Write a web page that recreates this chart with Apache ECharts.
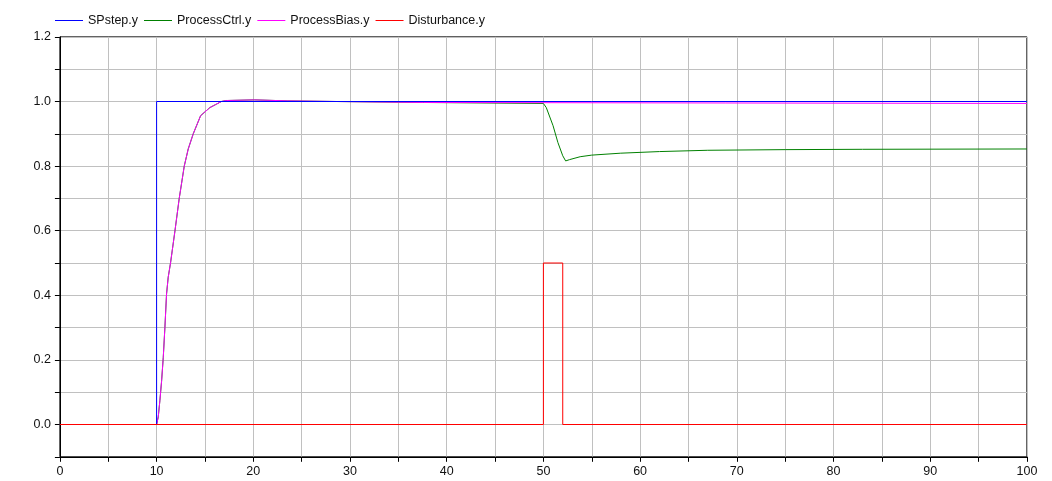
<!DOCTYPE html>
<html>
<head>
<meta charset="utf-8">
<script src="https://cdn.jsdelivr.net/npm/echarts@6/dist/echarts.min.js"></script>
<style>
html,body{margin:0;padding:0;background:#fff;}
#chart{width:1052px;height:481px;}
</style>
</head>
<body>
<div id="chart"></div>
<script>
// Series names
const seriesNames = ['SPstep.y', 'ProcessCtrl.y', 'ProcessBias.y', 'Disturbance.y'];

// Setpoint step [time, value]
const spStep = [[0,0],[10,0],[10,1],[100,1]];

// Process with bias (first-order-like response)
const processBias = [
  [0,0],[10,0],[10.17,0.023],[10.34,0.074],[10.52,0.136],[10.69,0.208],[10.86,0.301],
  [11.03,0.404],[11.2,0.456],[11.44,0.50],[11.9,0.60],[12.34,0.70],[12.86,0.80],
  [13.27,0.853],[13.79,0.90],[14.55,0.956],[15.5,0.981],[16.2,0.992],[16.7,1.0],
  [17.2,1.003],[17.4,1.005],[20.1,1.005],[20.1,1.002],[23.5,1.002],[23.5,1.0],[28.6,1.0],
  [28.6,0.997],[37.6,0.997],[37.6,0.994],[100,0.994]
];

// Process with controller: same as bias until disturbance, then dips
const processCtrl = processBias.slice(0, processBias.length - 1).concat([
  [50,0.994],[50.3,0.981],[51.0,0.925],[51.5,0.873],[52.0,0.832],[52.3,0.816],
  [52.7,0.82],[53.8,0.829],[55,0.834],[58,0.840],[62,0.845],[67,0.849],
  [75,0.851],[83,0.852],[100,0.853]
]);

// Disturbance pulse
const disturbance = [[0,0],[50,0],[50,0.5],[52,0.5],[52,0],[100,0]];

const colors = ['#0000ff', '#008000', '#ff00ff', '#ff0000'];
const dataSets = [spStep, processCtrl, processBias, disturbance];
const zOrder = [3, 1, 2, 4];

const FONT = 'Liberation Sans, Arial, sans-serif';
const chart = echarts.init(document.getElementById('chart'), null, {renderer: 'canvas'});

chart.setOption({
  animation: false,
  backgroundColor: '#fff',
  color: colors,
  legend: {
    data: seriesNames,
    left: 55,
    top: 13,
    padding: 0,
    icon: 'rect',
    itemWidth: 28,
    itemHeight: 1,
    itemGap: 6,
    textStyle: {fontFamily: FONT, fontSize: 12.5, color: '#111', lineHeight: 15}
  },
  grid: {
    left: 59.9, right: 25.1, top: 36.9, bottom: 24.2,
    show: true, borderColor: '#000', borderWidth: 1, backgroundColor: 'transparent',
    containLabel: false
  },
  xAxis: {
    type: 'value', min: 0, max: 100, interval: 5,
    axisLine: {show: true, onZero: false, lineStyle: {color: '#000', width: 1}},
    axisTick: {show: true, length: 5, lineStyle: {color: '#000'}},
    axisLabel: {
      fontFamily: FONT, fontSize: 12.5, color: '#111', margin: 8,
      formatter: function (v) { return (Math.round(v) % 10 === 0) ? String(Math.round(v)) : ''; }
    },
    splitLine: {show: true, lineStyle: {color: '#c0c0c0', width: 1}}
  },
  yAxis: {
    type: 'value', min: -0.1, max: 1.2, interval: 0.1,
    axisLine: {show: true, onZero: false, lineStyle: {color: '#000', width: 1}},
    axisTick: {show: true, length: 5, lineStyle: {color: '#000'}},
    axisLabel: {
      fontFamily: FONT, fontSize: 12.5, color: '#111', margin: 9,
      formatter: function (v) {
        const k = Math.round(v * 10);
        return (k >= 0 && k % 2 === 0) ? (k / 10).toFixed(1) : '';
      }
    },
    splitLine: {show: true, lineStyle: {color: '#c0c0c0', width: 1}}
  },
  series: seriesNames.map(function (name, i) {
    return {
      name: name,
      type: 'line',
      data: dataSets[i],
      showSymbol: false,
      symbol: 'none',
      z: zOrder[i],
      lineStyle: {color: colors[i], width: 1},
      itemStyle: {color: colors[i]}
    };
  })
});
</script>
</body>
</html>
